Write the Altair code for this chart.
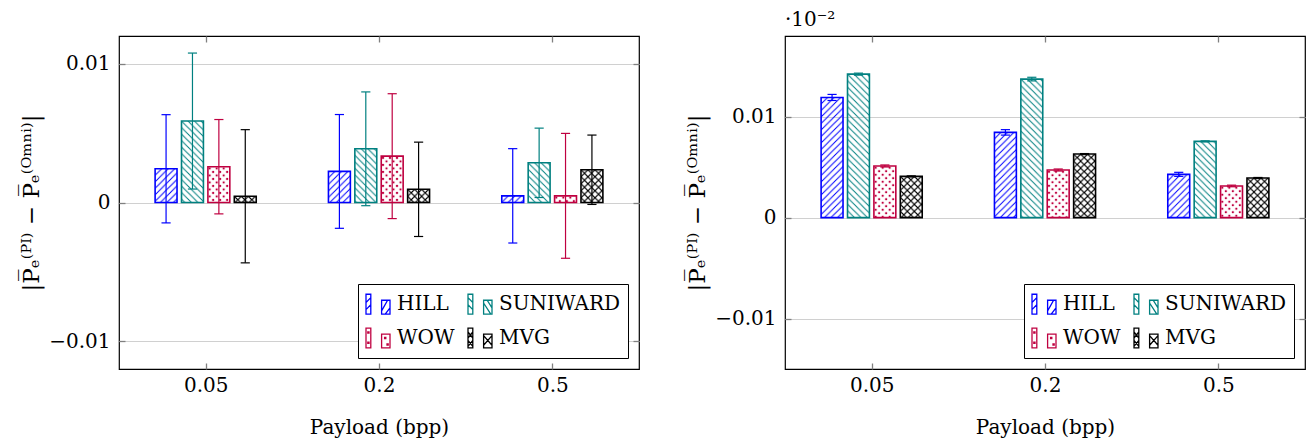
import json
import base64
import altair as alt
import pandas as pd

# ---------------- data ----------------
payloads = ["0.05", "0.2", "0.5"]
methods = ["HILL", "SUNIWARD", "WOW", "MVG"]
colors = ["#0000ff", "#008080", "#bf0040", "#000000"]

# left panel: mean and symmetric error half-width, per payload
left_hill = [0.00243, 0.00224, 0.00048]
left_hill_err = [0.0039, 0.0041, 0.0034]
left_suniward = [0.00587, 0.00387, 0.00286]
left_suniward_err = [0.0049, 0.0041, 0.0025]
left_wow = [0.00258, 0.00334, 0.00048]
left_wow_err = [0.0034, 0.0045, 0.0045]
left_mvg = [0.00045, 0.00095, 0.00236]
left_mvg_err = [0.0048, 0.0034, 0.0025]

# right panel
right_hill = [0.01191, 0.00845, 0.00429]
right_hill_err = [0.0003, 0.00027, 0.0002]
right_suniward = [0.01422, 0.01373, 0.00756]
right_suniward_err = [0.0001, 0.00018, 0.00005]
right_wow = [0.00512, 0.00472, 0.00314]
right_wow_err = [0.0001, 0.0001, 0.00008]
right_mvg = [0.00409, 0.0063, 0.00393]
right_mvg_err = [0.00005, 0.00005, 0.00005]

y_ticks = [-0.01, 0, 0.01]
left_domain = [-0.012, 0.012]
right_domain = [-0.015, 0.018]
x_title = "Payload (bpp)"
y_title = "|P\u0305\u2091\u207D\u1D3E\u1D35\u207E \u2212 P\u0305\u2091\u207D\u1D3C\u1D50\u207F\u2071\u207E|"
exp_label = "\u00B710\u207B\u00B2"


def make_df(means, errs):
    rows = []
    for m, mv, ev in zip(methods, means, errs):
        for i, p in enumerate(payloads):
            rows.append({"payload": p, "method": m, "mean": mv[i], "err": ev[i]})
    return pd.DataFrame(rows)


left_df = make_df([left_hill, left_suniward, left_wow, left_mvg],
                  [left_hill_err, left_suniward_err, left_wow_err, left_mvg_err])
right_df = make_df([right_hill, right_suniward, right_wow, right_mvg],
                   [right_hill_err, right_suniward_err, right_wow_err, right_mvg_err])

# ---------------- style ----------------
FONT = "DejaVu Serif"
FS = 20
PW, PH = 520, 333
STEP = 26.5 / 174
HALF = 11 / 174
CAP = 4.6 / 174


def pattern_uri(kind, color):
    if kind == "ne":
        t = 6.5
        inner = (f"<path d='M0,{t}L{t},0M{-t/2},{t/2}L{t/2},{-t/2}M{t/2},{1.5*t}L{1.5*t},{t/2}' "
                 f"stroke='{color}' stroke-width='1' fill='none'/>")
    elif kind == "nw":
        t = 6.5
        inner = (f"<path d='M0,0L{t},{t}M{-t/2},{t/2}L{t/2},{1.5*t}M{t/2},{-t/2}L{1.5*t},{t/2}' "
                 f"stroke='{color}' stroke-width='1' fill='none'/>")
    elif kind == "dots":
        t = 7
        inner = (f"<circle cx='1.75' cy='1.75' r='1.15' fill='{color}'/>"
                 f"<circle cx='5.25' cy='5.25' r='1.15' fill='{color}'/>")
    else:
        t = 7
        inner = (f"<path d='M0,{t}L{t},0M{-t/2},{t/2}L{t/2},{-t/2}M{t/2},{1.5*t}L{1.5*t},{t/2}"
                 f"M0,0L{t},{t}M{-t/2},{t/2}L{t/2},{1.5*t}M{t/2},{-t/2}L{1.5*t},{t/2}' "
                 f"stroke='{color}' stroke-width='1.1' fill='none'/>")
    svg = ("<svg xmlns='http://www.w3.org/2000/svg' width='100%' height='100%'>"
           f"<defs><pattern id='p' width='{t}' height='{t}' patternUnits='userSpaceOnUse'>{inner}</pattern></defs>"
           "<rect width='100%' height='100%' fill='url(#p)'/></svg>")
    return "data:image/svg+xml;base64," + base64.b64encode(svg.encode()).decode()


kinds = ["ne", "nw", "dots", "cross"]
uris = [pattern_uri(k, c) for k, c in zip(kinds, colors)]
url_expr = "".join(f"datum.method === '{m}' ? '{u}' : " for m, u in zip(methods[:-1], uris[:-1])) + f"'{uris[-1]}'"

R1 = "M-1,-0.83H-0.6V0.83H-1Z M0.3,-0.33H1V0.83H0.3Z "
legend_shapes = [
    R1 + "M-1,0.45L-0.6,0.05M-1,-0.15L-0.6,-0.55M0.3,0.55L0.8,-0.33M0.6,0.83L1,0.3",
    R1 + "M-1,0.05L-0.6,0.45M-1,-0.55L-0.6,-0.15M0.3,-0.1L0.9,0.83M0.6,-0.33L1,0.3",
    R1 + "M-0.85,-0.5h0.1v0.1h-0.1ZM-0.85,0.35h0.1v0.1h-0.1ZM0.55,-0.05h0.1v0.1h-0.1ZM0.75,0.5h0.1v0.1h-0.1Z",
    R1 + "M-1,-0.5L-0.6,0M-1,0L-0.6,-0.5M-1,0.2L-0.6,0.7M-1,0.7L-0.6,0.2M0.3,-0.2L1,0.6M0.3,0.6L1,-0.2",
]

payload_expr = json.dumps(payloads)


def tick_axis(orient, values):
    return alt.Axis(orient=orient, offset=-6, values=values, labels=False, domain=False,
                    grid=False, title=None, ticks=True, tickSize=6, tickColor="#808080",
                    tickWidth=1.3)


def panel(df, ydom, with_exp):
    xs = alt.Scale(domain=[-0.5, 2.5], nice=False, zero=False)
    ys = alt.Scale(domain=ydom, nice=False, zero=False)
    sc = alt.Scale(domain=methods, range=colors)
    leg = alt.Legend(title=None, direction="horizontal", columns=2, labelFont=FONT,
                     labelFontSize=FS, labelColor="black")
    base = alt.Chart(df).transform_calculate(
        g=f"indexof({payload_expr}, datum.payload)",
        s=f"indexof({json.dumps(methods)}, datum.method)",
        xc=f"datum.g + (datum.s - 1.5) * {STEP}",
        xl=f"datum.xc - {HALF}",
        xr=f"datum.xc + {HALF}",
        cl=f"datum.xc - {CAP}",
        cr=f"datum.xc + {CAP}",
        lo="datum.mean - datum.err",
        hi="datum.mean + datum.err",
        zero="0",
        url=url_expr,
    )
    main_x = alt.Axis(values=[0, 1, 2], labelExpr=f"{payload_expr}[datum.value]", ticks=False,
                      domain=False, grid=False, title=x_title, labelPadding=6, titlePadding=22)
    main_y = alt.Axis(values=y_ticks, format="~g", ticks=False, domain=False, grid=True,
                      gridColor="#d0d0d0", gridWidth=1.2, title=y_title, labelPadding=9,
                      titlePadding=5)
    stroke = alt.Stroke("method:N", scale=sc, legend=leg)

    img = base.mark_image(aspect=False).encode(
        x=alt.X("xl:Q", scale=xs, axis=main_x), x2="xr:Q",
        y=alt.Y("mean:Q", scale=ys, axis=main_y), y2="zero:Q",
        url="url:N",
    )
    outline = base.mark_bar(fill="transparent", strokeWidth=1.6).encode(
        x=alt.X("xl:Q", scale=xs, axis=tick_axis("bottom", [0, 1, 2])), x2="xr:Q",
        y=alt.Y("mean:Q", scale=ys, axis=tick_axis("left", y_ticks)), y2="zero:Q",
        stroke=stroke,
    )
    err = base.mark_rule(strokeWidth=1.2).encode(
        x=alt.X("xc:Q", scale=xs, axis=tick_axis("top", [0, 1, 2])),
        y=alt.Y("lo:Q", scale=ys, axis=tick_axis("right", y_ticks)), y2="hi:Q",
        stroke=stroke,
    )
    cap_hi = base.mark_rule(strokeWidth=1.2).encode(
        x=alt.X("cl:Q", scale=xs, axis=None), x2="cr:Q",
        y=alt.Y("hi:Q", scale=ys, axis=None), stroke=stroke,
    )
    cap_lo = base.mark_rule(strokeWidth=1.2).encode(
        x=alt.X("cl:Q", scale=xs, axis=None), x2="cr:Q",
        y=alt.Y("lo:Q", scale=ys, axis=None), stroke=stroke,
    )
    legend_layer = base.mark_point(filled=False, opacity=1).transform_filter("false").encode(
        x=alt.X("xc:Q", scale=xs, axis=None),
        y=alt.Y("mean:Q", scale=ys, axis=None),
        stroke=stroke,
        shape=alt.Shape("method:N", scale=alt.Scale(domain=methods, range=legend_shapes), legend=leg),
    )
    layers = [img, outline, err, cap_hi, cap_lo, legend_layer]
    if with_exp:
        txt = alt.Chart(pd.DataFrame({"label": [exp_label]})).mark_text(
            align="left", baseline="middle", font=FONT, fontSize=FS, color="black"
        ).encode(x=alt.value(0), y=alt.value(-16), text="label:N")
        layers.append(txt)
    return alt.layer(*layers).resolve_axis(x="independent", y="independent").properties(
        width=PW, height=PH)


left = panel(left_df, left_domain, False)
right = panel(right_df, right_domain, True)

chart = alt.hconcat(left, right, spacing=146, bounds="flush").resolve_scale(
    stroke="independent", shape="independent"
).properties(
    padding={"left": 12, "top": 1, "right": 0, "bottom": 0}
).configure_view(
    stroke="black", strokeWidth=1.2
).configure_axis(
    labelFont=FONT, labelFontSize=FS, labelColor="black",
    titleFont=FONT, titleFontSize=FS, titleFontWeight="normal", titleColor="black",
).configure_axisY(
    titleFontSize=23
).configure_legend(
    orient="bottom-right", offset=11, strokeColor="black", fillColor="white",
    padding=7, labelFont=FONT, labelFontSize=FS, labelColor="black", symbolSize=576,
    symbolStrokeWidth=1.3, columnPadding=10, rowPadding=8, labelOffset=6, cornerRadius=0,
)

chart.save("out.html", embed_options={"renderer": "svg", "actions": False})
